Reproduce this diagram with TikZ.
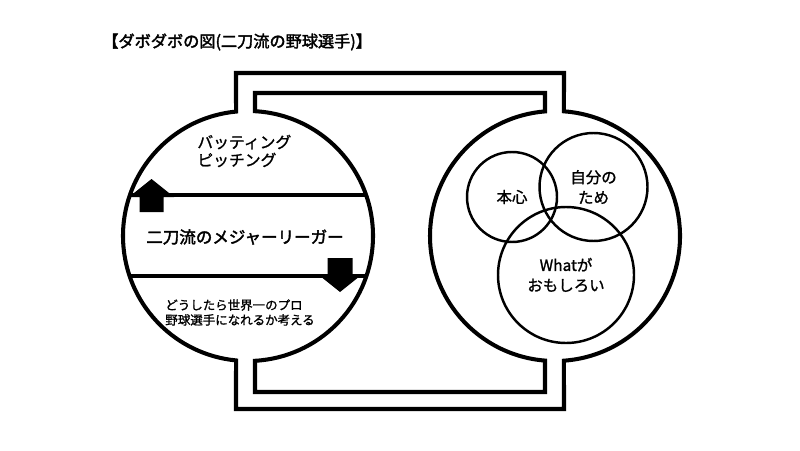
\documentclass[tikz,border=0pt]{standalone}
\usepackage{fontspec}
\newfontfamily\jp[FakeBold=1.2]{Noto Sans CJK JP}
\newfontfamily\jpb[FakeBold=2.2]{Noto Sans CJK JP}
\usepackage{tikz}
\usetikzlibrary{positioning}

\begin{document}
\begin{tikzpicture}[line join=miter,
  wall/.style={line width=2.3pt},
  bar/.style={line width=2.5pt},
  ring/.style={draw,circle,line width=1.4pt,inner sep=0pt},
  blk/.style={fill=black},
  lbl/.style={font=\jp\fontsize{8.8pt}{11.5pt}\selectfont,align=center,inner sep=0pt}]
\useasboundingbox (0,0) rectangle (16,9);
\coordinate (L) at (4.96,4.28);
\coordinate (R) at (11.1,4.28);
\draw[wall] ([shift={(95.5:2.5)}]L) arc[start angle=95.5,end angle=264.5,radius=2.5]
  -- (4.72,0.82) -- (11.28,0.82) -- ([shift={(-85.9:2.5)}]R)
  arc[start angle=-85.9,end angle=85.9,radius=2.5] -- (11.28,7.54) -- (4.72,7.54) -- cycle;
\draw[wall] ([shift={(86.8:2.5)}]L) arc[start angle=86.8,end angle=-86.8,radius=2.5]
  -- (5.1,1.16) -- (10.9,1.16) -- ([shift={(265.4:2.5)}]R)
  arc[start angle=265.4,end angle=94.6,radius=2.5] -- (10.9,7.14) -- (5.1,7.14) -- cycle;
\draw[bar] (2.6,5.1) -- (7.32,5.1);
\draw[bar] (2.59,3.48) -- (7.33,3.48);
\fill[blk] (2.79,4.76) -- (2.79,5.06) -- (2.58,5.06) -- (3.03,5.42) -- (3.48,5.06)
  -- (3.27,5.06) -- (3.27,4.76) -- cycle;
\fill[blk] (6.55,3.84) -- (6.55,3.52) -- (6.35,3.52) -- (6.8,3.16) -- (7.25,3.52)
  -- (7.05,3.52) -- (7.05,3.84) -- cycle;

\node[lbl,anchor=west,font=\jpb\fontsize{9.2pt}{10pt}\selectfont] (title) at (2.04,8.16)
  {【ダボダボの図(二刀流の野球選手)】};
\node[lbl,anchor=west,align=left,font=\jp\fontsize{9pt}{10.2pt}\selectfont] (skill) at (3.94,5.98)
  {バッティング\\ピッチング};
\node[lbl,font=\jpb\fontsize{9.4pt}{11pt}\selectfont] (major) at (4.9,4.26)
  {二刀流のメジャーリーガー};
\node[lbl,anchor=west,align=left,font=\jp\fontsize{7.1pt}{8.5pt}\selectfont] (think) at (3.3,2.75)
  {どうしたら世界一のプロ\\野球選手になれるか考える};

\node[ring,lbl,minimum size=1.8cm] (honshin) at (10.24,5.06) {本心};
\node[ring,lbl,minimum size=2.16cm] (jibun) at (11.87,5.26) {自分の\\ため};
\node[ring,lbl,minimum size=2.72cm] (what) at (11.32,3.5) {Whatが\\おもしろい};
\end{tikzpicture}
\end{document}
